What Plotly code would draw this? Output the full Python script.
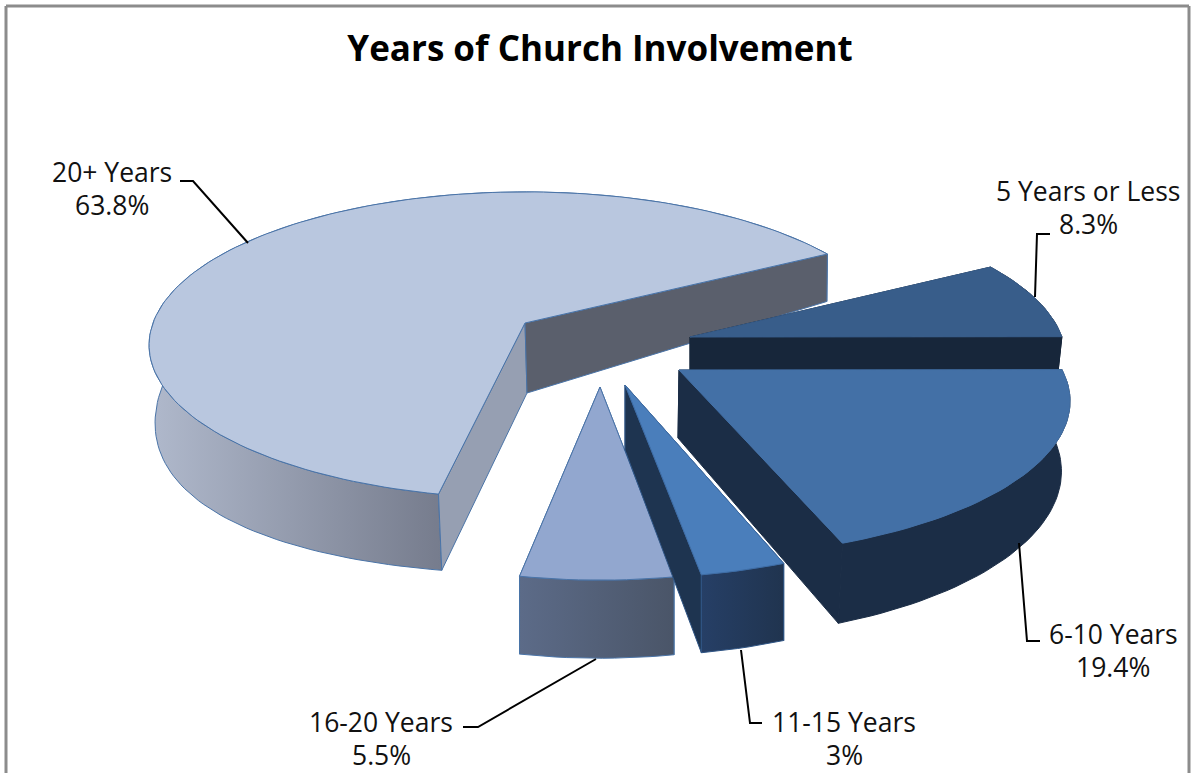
import math
import plotly.graph_objects as go

# ---- data ----
categories = ["5 Years or Less", "6-10 Years", "11-15 Years", "16-20 Years", "20+ Years"]
values = [8.3, 19.4, 3, 5.5, 63.8]
first_slice_angle = 60.0  # degrees clockwise from the back of the pie
title_text = "Years of Church Involvement"

# ---- styling / placement (pixels of the 1191x773 canvas) ----
W, H = 1191, 773
RX, RY = 372, 150
# each: top apex, top (kx, ky, sx, sy), bottom ring centre, bottom (kx, ky, sx, sy), bottom corner
geometry = {
    "5 Years or Less": ((690, 337), (0.144, 0.144, 1.0, 1.0), (690, 405), (0.168, 0.0, 0.98, 1.21), (690, 405)),
    "6-10 Years": ((679, 370), (0.20, 0.20, 1.03, 1.0), (678, 438), (0.20, 0.20, 1.01, 1.07), (678, 438)),
    "11-15 Years": ((625, 385), (0.20, 0.20, 1.0, 1.03), (625, 450), (0.20, 0.20, 1.0, 1.10), (625, 450)),
    "16-20 Years": ((600, 387), (0.20, 0.20, 0.97, 1.03), (600, 452), (0.20, 0.20, 0.97, 1.10), (600, 452)),
    "20+ Years": ((525, 323), (0.144, 0.144, 1.0, 1.0), (527, 397), (0.14, -0.064, 0.99, 1.253), (527, 393)),
}
# small per-slice adjustment of the drawn wedge ends, degrees
wedge_adjust = {"20+ Years": (1.2, 0.5)}
# slices whose cut faces face away and sit behind the outer wall
cuts_behind_outer = {"16-20 Years", "11-15 Years"}
top_colors = {"5 Years or Less": "#385d8a", "6-10 Years": "#4370a6", "11-15 Years": "#4a7ebb",
              "16-20 Years": "#92a7cf", "20+ Years": "#b9c7df"}
start_wall = {"5 Years or Less": "#17263a", "6-10 Years": "#1b2d46", "11-15 Years": "#1e3450",
              "16-20 Years": "#4a5568", "20+ Years": "#969fb2"}
end_wall = {"5 Years or Less": "#17263a", "6-10 Years": "#1b2d46", "11-15 Years": "#1e3450",
            "16-20 Years": "#4a5568", "20+ Years": "#5a5f6c"}
outer_grad = {"5 Years or Less": [[0, "#17263a"], [1, "#17263a"]],
              "6-10 Years": [[0, "#1b2d46"], [1, "#1b2d46"]],
              "11-15 Years": [[0, "#263f66"], [1, "#20344f"]],
              "16-20 Years": [[0, "#5c6b88"], [1, "#4a5568"]],
              "20+ Years": [[0, "#b0b9cc"], [0.43, "#767c8d"], [1, "#767c8d"]]}
top_edge = {"5 Years or Less": "#385d8a", "6-10 Years": "#4370a6", "11-15 Years": "#3f6da5",
            "16-20 Years": "#4a74a8", "20+ Years": "#4a74a8"}
wall_edge = {"5 Years or Less": "#17263a", "6-10 Years": "#1b2d46", "11-15 Years": "#2f5585",
             "16-20 Years": "#4a74a8", "20+ Years": "#4a74a8"}
draw_order = ["20+ Years", "5 Years or Less", "6-10 Years", "16-20 Years", "11-15 Years"]
# centre x, first line y, second line y
label_pos = {"20+ Years": (112, 172, 205), "5 Years or Less": (1088, 191, 224), "6-10 Years": (1113, 634, 667),
             "11-15 Years": (844, 722, 755), "16-20 Years": (381, 722, 755)}
leaders = {"20+ Years": [(180, 181), (193, 181), (248, 243)],
           "5 Years or Less": [(1050, 234), (1037, 234), (1035, 297)],
           "6-10 Years": [(1040, 641), (1027, 641), (1019, 543)],
           "11-15 Years": [(762, 723), (750, 723), (741, 650)],
           "16-20 Years": [(463, 727), (478, 727), (596, 659)]}
LABEL_FONT = "Open Sans"
LABEL_SIZE = 26.5


def project(apex, params, deg):
    kx, ky, sx, sy = params
    a = math.radians(deg)
    u, v = math.sin(a), -math.cos(a)
    return apex[0] + RX * sx * u / (1 - kx * v), apex[1] + RY * sy * v / (1 - ky * v)


def arc(apex, params, a0, a1):
    n = max(4, int(abs(a1 - a0) / 1.5))
    return [project(apex, params, a0 + (a1 - a0) * i / n) for i in range(n + 1)]


def poly(points, color=None, edge=None, gradient=None, name=None, hover=None):
    xs = [p[0] for p in points] + [points[0][0]]
    ys = [p[1] for p in points] + [points[0][1]]
    t = go.Scatter(x=xs, y=ys, mode="lines", fill="toself", name=name or "",
                   line=dict(color=edge or color or "rgba(0,0,0,0)", width=1),
                   showlegend=False, hoverinfo="text" if hover else "skip", text=hover,
                   hoveron="fills" if hover else None)
    if gradient:
        t.fillgradient = dict(type="horizontal", colorscale=gradient)
    else:
        t.fillcolor = color
    return t


total = sum(values)
angles = {}
cursor = first_slice_angle
for c, val in zip(categories, values):
    d0, d1 = wedge_adjust.get(c, (0, 0))
    angles[c] = (cursor + d0, cursor + val / total * 360 + d1)
    cursor += val / total * 360

fig = go.Figure()
for c in draw_order:
    a0, a1 = angles[c]
    ta, tp, rc, bp, ba = geometry[c]
    top_arc = arc(ta, tp, a0, a1)
    bot_arc = arc(rc, bp, a0, a1)
    start = poly([ta, top_arc[0], bot_arc[0], ba], color=start_wall[c], edge=wall_edge[c])
    end = poly([ta, top_arc[-1], bot_arc[-1], ba], color=end_wall[c], edge=wall_edge[c])
    outer = poly(top_arc + bot_arc[::-1], gradient=outer_grad[c], edge=wall_edge[c])
    walls = [start, end, outer] if c in cuts_behind_outer else [outer, start, end]
    fig.add_traces(walls)
    pct = values[categories.index(c)]
    fig.add_trace(poly([ta] + top_arc, color=top_colors[c], edge=top_edge[c], name=c,
                       hover=f"{c}: {pct:g}%"))

for c, pts in leaders.items():
    fig.add_trace(go.Scatter(x=[p[0] for p in pts], y=[p[1] for p in pts], mode="lines",
                             line=dict(color="black", width=2), showlegend=False, hoverinfo="skip"))

for c, val in zip(categories, values):
    x, y1, y2 = label_pos[c]
    for text, yy in ((c, y1), (f"{val:g}%", y2)):
        fig.add_annotation(x=x, y=yy, text=text, showarrow=False, xanchor="center", yanchor="middle",
                           font=dict(family=LABEL_FONT, size=LABEL_SIZE, color="#111111"))

frame = "#8c8c8c"
shapes = [dict(type="line", x0=a, y0=b, x1=c, y1=d, line=dict(color=frame, width=3), layer="below")
          for a, b, c, d in [(6, 6, 1189, 6), (6, 6, 6, H), (1189, 6, 1189, H)]]

fig.update_layout(
    width=W, height=H, margin=dict(l=0, r=0, t=0, b=0),
    paper_bgcolor="white", plot_bgcolor="white", showlegend=False, shapes=shapes,
    title=dict(text=f"<b>{title_text}</b>", x=600 / W, y=1 - 49 / H, xanchor="center", yanchor="middle",
               xref="paper", yref="paper", font=dict(family=LABEL_FONT, size=35, color="black")),
    xaxis=dict(range=[0, W], visible=False, fixedrange=True),
    yaxis=dict(range=[H, 0], visible=False, fixedrange=True),
)
fig.write_html("out.html", post_script="document.body.style.margin='0';",
               config=dict(displayModeBar=False))
